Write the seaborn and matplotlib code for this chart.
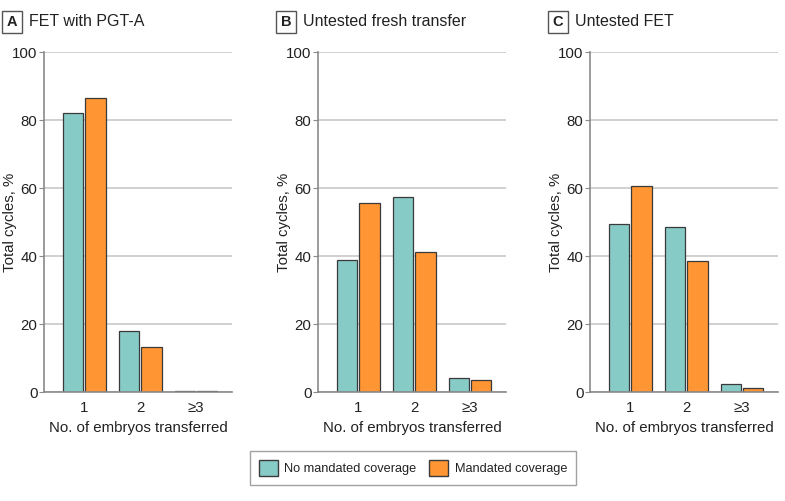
import pandas as pd
import seaborn as sns
import matplotlib.pyplot as plt
from matplotlib.patches import Patch

# -------------------------------------------------------
# Data
# -------------------------------------------------------
categories = ["1", "2", "≥3"]
groups = ["No mandated coverage", "Mandated coverage"]

panel_letters = ["A", "B", "C"]
panel_titles = ["FET with PGT-A", "Untested fresh transfer", "Untested FET"]

fet_pgta_none = [82.1, 17.9, 0.3]
fet_pgta_mand = [86.6, 13.2, 0.2]

fresh_none = [38.8, 57.3, 4.1]
fresh_mand = [55.5, 41.1, 3.5]

fet_none = [49.4, 48.5, 2.3]
fet_mand = [60.5, 38.5, 1.3]

panel_values = [
    (fet_pgta_none, fet_pgta_mand),
    (fresh_none, fresh_mand),
    (fet_none, fet_mand),
]

colors = ["#87CBC7", "#FF9533"]

# -------------------------------------------------------
# Build long-form tables
# -------------------------------------------------------
frames = []
for title, (none_vals, mand_vals) in zip(panel_titles, panel_values):
    for grp, vals in zip(groups, [none_vals, mand_vals]):
        frames.append(pd.DataFrame({
            "panel": title,
            "Embryos": categories,
            "Coverage": grp,
            "Pct": vals,
        }))
df = pd.concat(frames, ignore_index=True)

# -------------------------------------------------------
# Plot
# -------------------------------------------------------
sns.set_style("white")
plt.rcParams["font.family"] = ["Liberation Sans", "DejaVu Sans"]

fig = plt.figure(figsize=(7.85, 5.01), dpi=100)

axes_left = [44, 318, 590]
ax_w = 188 / 785
ax_b = (501 - 392) / 501
ax_h = 340 / 501
fs = 10.8
txt = "#222222"

for i, title in enumerate(panel_titles):
    ax = fig.add_axes([axes_left[i] / 785, ax_b, ax_w, ax_h])
    sub = df[df["panel"] == title]
    sns.barplot(
        data=sub, x="Embryos", y="Pct", hue="Coverage",
        order=categories, hue_order=groups, palette=colors,
        saturation=1, width=0.8, gap=0.1,
        edgecolor="#3a3a3a", linewidth=0.9,
        legend=False, ax=ax,
    )
    ax.set_ylim(0, 100)
    ax.set_xlim(-0.72, 2.64)
    ax.set_yticks([0, 20, 40, 60, 80, 100])
    ax.yaxis.grid(True, color="#c8c8c8", linewidth=1.2)
    ax.set_axisbelow(True)
    for side in ["top", "right"]:
        ax.spines[side].set_visible(False)
    for side in ["left", "bottom"]:
        ax.spines[side].set_color("#8a8a8a")
        ax.spines[side].set_linewidth(1.2)
    ax.tick_params(axis="y", left=True, length=3.6, color="#8a8a8a",
                   labelsize=10.8, pad=1, labelcolor=txt)
    ax.tick_params(axis="x", bottom=False, labelsize=fs, pad=3,
                   labelcolor=txt)
    ax.set_ylabel("Total cycles, %", fontsize=fs, color=txt)
    ax.yaxis.set_label_coords(-0.145, 0.5)
    ax.set_xlabel("No. of embryos transferred", fontsize=fs, labelpad=4,
                  color=txt)

    # panel letter box + title
    x0 = (axes_left[i] - 32) / 785
    fig.text(x0, 1 - 22 / 501, panel_letters[i], fontsize=10.5,
             fontweight="bold", ha="center", va="center", color=txt,
             bbox=dict(boxstyle="square,pad=0.3", fc="white",
                       ec="#555555", lw=1))
    fig.text(x0 + 17 / 785, 1 - 22 / 501, title, fontsize=11.5,
             ha="left", va="center", color=txt)

handles = [Patch(facecolor=c, edgecolor="#3a3a3a", label=g)
           for c, g in zip(colors, groups)]
fig.legend(handles=handles, loc="center",
           bbox_to_anchor=(413 / 785, 1 - 468 / 501),
           ncol=2, frameon=True, fontsize=9.2, fancybox=False,
           edgecolor="#8a8a8a", handlelength=1.5, handleheight=1.5,
           columnspacing=1.0, handletextpad=0.5, borderpad=0.7,
           labelcolor=txt)

plt.savefig("out.png", dpi=100)
